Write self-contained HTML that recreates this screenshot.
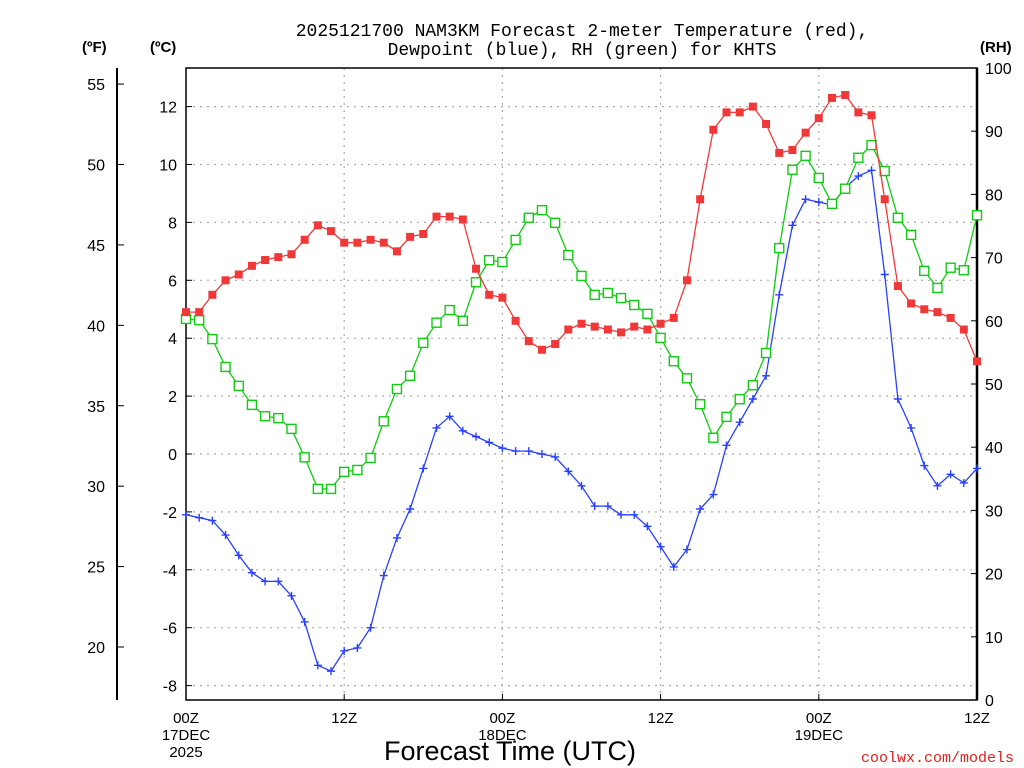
<!DOCTYPE html>
<html><head><meta charset="utf-8"><style>
body{margin:0;background:#fff;width:1024px;height:768px;overflow:hidden}
svg{display:block}
text{font-family:"Liberation Sans",sans-serif}
</style></head><body>
<svg id="chart" width="1024" height="768" viewBox="0 0 1024 768" xmlns="http://www.w3.org/2000/svg">
<g id="grid"></g>
<g id="axes"></g>
<g id="series"></g>
<text x="582" y="36" text-anchor="middle" font-size="18" style="font-family:'Liberation Mono',monospace">2025121700 NAM3KM Forecast 2-meter Temperature (red),</text>
<text x="582" y="55" text-anchor="middle" font-size="18" style="font-family:'Liberation Mono',monospace">Dewpoint (blue), RH (green) for KHTS</text>
<text x="82" y="52" font-size="15" font-weight="bold">(ºF)</text>
<text x="150" y="52" font-size="15" font-weight="bold">(ºC)</text>
<text x="980" y="52" font-size="15" font-weight="bold">(RH)</text>
<text x="510" y="760" text-anchor="middle" font-size="27">Forecast Time (UTC)</text>
<text x="1014" y="762" text-anchor="end" font-size="15" fill="#e02020" style="font-family:'Liberation Mono',monospace">coolwx.com/models</text>
</svg>
<script>
const hours = Array.from({length:61},(_,i)=>i);
const tempC = [4.9,4.9,5.5,6.0,6.2,6.5,6.7,6.8,6.9,7.4,7.9,7.7,7.3,7.3,7.4,7.3,7.0,7.5,7.6,8.2,8.2,8.1,6.4,5.5,5.4,4.6,3.9,3.6,3.8,4.3,4.5,4.4,4.3,4.2,4.4,4.3,4.5,4.7,6.0,8.8,11.2,11.8,11.8,12.0,11.4,10.4,10.5,11.1,11.6,12.3,12.4,11.8,11.7,8.8,5.8,5.2,5.0,4.9,4.7,4.3,3.2];
const dewC = [-2.1,-2.2,-2.3,-2.8,-3.5,-4.1,-4.4,-4.4,-4.9,-5.8,-7.3,-7.5,-6.8,-6.7,-6.0,-4.2,-2.9,-1.9,-0.5,0.9,1.3,0.8,0.6,0.4,0.2,0.1,0.1,0.0,-0.1,-0.6,-1.1,-1.8,-1.8,-2.1,-2.1,-2.5,-3.2,-3.9,-3.3,-1.9,-1.4,0.3,1.1,1.9,2.7,5.5,7.9,8.8,8.7,8.6,9.2,9.6,9.8,6.2,1.9,0.9,-0.4,-1.1,-0.7,-1.0,-0.5];
const rh = [60.3,60.1,57.1,52.7,49.7,46.7,44.9,44.6,42.9,38.4,33.4,33.4,36.1,36.4,38.3,44.1,49.2,51.3,56.5,59.7,61.7,60.0,66.1,69.6,69.3,72.8,76.3,77.5,75.5,70.4,67.1,64.1,64.4,63.6,62.5,61.1,57.3,53.6,50.9,46.8,41.5,44.8,47.6,49.8,54.9,71.5,83.9,86.1,82.6,78.5,80.9,85.8,87.8,83.7,76.3,73.6,67.9,65.2,68.4,68.0,76.7];
const cTicks = [-8,-6,-4,-2,0,2,4,6,8,10,12];
const fTicks = [20,25,30,35,40,45,50,55];
const rhTicks = [0,10,20,30,40,50,60,70,80,90,100];
const xTickHours = [0,12,24,36,48,60];
const xTickLabels = [["00Z","17DEC","2025"],["12Z"],["00Z","18DEC"],["12Z"],["00Z","19DEC"],["12Z"]];

const L=186,R=977,T=68,B=700;
const xS=h=>L+(R-L)*h/60;
const yC=c=>454-c*28.95;
const yF=f=>yC((f-32)/1.8);
const yRH=v=>B-(B-T)*v/100;
const NS="http://www.w3.org/2000/svg";
function mk(tag,attrs,parent,txt){const e=document.createElementNS(NS,tag);for(const k in attrs)e.setAttribute(k,attrs[k]);if(txt!==undefined)e.textContent=txt;parent.appendChild(e);return e;}
const grid=document.getElementById('grid'),axes=document.getElementById('axes'),ser=document.getElementById('series');

cTicks.forEach(c=>{
  const y=yC(c);
  const g=mk('line',{x1:L,x2:R,y1:y,y2:y,stroke:'#aaa','stroke-width':1.2,'stroke-dasharray':'2,5'},grid);
  
  
  mk('line',{x1:L,x2:L+6,y1:y,y2:y,stroke:'#000'},axes);
  const t=mk('text',{x:177,y:y+6,'text-anchor':'end','font-size':16},axes,String(c));
  
  
});
xTickHours.forEach((h,i)=>{
  const x=xS(h);
  if(h>0&&h<60){const g=mk('line',{x1:x,x2:x,y1:T,y2:B,stroke:'#aaa','stroke-width':1.2,'stroke-dasharray':'2,5'},grid);
  
  }
  mk('line',{x1:x,x2:x,y1:B,y2:B-6,stroke:'#000'},axes);
  xTickLabels[i].forEach((s,j)=>{
    const t=mk('text',{x:x,y:723+j*17,'text-anchor':'middle','font-size':15},axes,s);
    
    
  });
});
fTicks.forEach(f=>{
  const y=yF(f);
  mk('line',{x1:117,x2:124,y1:y,y2:y,stroke:'#000'},axes);
  const t=mk('text',{x:105,y:y+6,'text-anchor':'end','font-size':16},axes,String(f));
  
  
});
rhTicks.forEach(v=>{
  const y=yRH(v);
  mk('line',{x1:R-6,x2:R,y1:y,y2:y,stroke:'#000'},axes);
  const t=mk('text',{x:985,y:y+6,'font-size':16},axes,String(v));
  
  
});
mk('line',{x1:117,x2:117,y1:T,y2:B,stroke:'#000','stroke-width':2},axes);
mk('rect',{x:L,y:T,width:R-L,height:B-T,fill:'none',stroke:'#000','stroke-width':1.5},axes);
mk('line',{x1:R,x2:R,y1:T,y2:B,stroke:'#000','stroke-width':2.5},axes);

function series(vals,yf,color,name,marker){
  const pts=vals.map((v,i)=>[xS(hours[i]),yf(v)]);
  const p=mk('polyline',{points:pts.map(q=>q.join(',')).join(' '),fill:'none',stroke:color,'stroke-width':1.3},ser);
  
  
  pts.forEach(([x,y])=>{
    let m;
    if(marker==='fill') m=mk('rect',{x:x-4,y:y-4,width:8,height:8,fill:color},ser);
    else if(marker==='open') m=mk('rect',{x:x-4.5,y:y-4.5,width:9,height:9,fill:'#fff',stroke:color,'stroke-width':1.4},ser);
    else m=mk('path',{d:`M${x-4},${y}H${x+4}M${x},${y-4}V${y+4}`,stroke:color,'stroke-width':1.4},ser);
    
    
  });
}
series(dewC,yC,'#2840ff','dewpoint','plus');
series(rh,yRH,'#10cc10','rh','open');
series(tempC,yC,'#f03838','temperature','fill');
</script>
</body></html>
